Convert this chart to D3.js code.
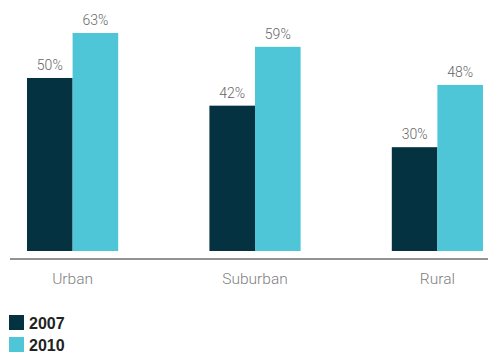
<!DOCTYPE html>
<html>
<head>
<meta charset="utf-8">
<script src="https://cdn.jsdelivr.net/npm/d3@7"></script>
<style>
  body { margin: 0; background: #fff; }
  svg { display: block; }
</style>
</head>
<body>
<svg></svg>
<script>
let categories = ['Urban', 'Suburban', 'Rural']
let years = ['2007', '2010']
let values2007 = [50, 42, 30]
let values2010 = [63, 59, 48]

let colors = ['#053241', '#4fc6d8']

let width = 488
let height = 354
let baseY = 251
let axisY = 259

let svg = d3.select('svg')
            .attr('width', width)
            .attr('height', height)

let rows = categories.map((c, i) => ({ name: c, values: [values2007[i], values2010[i]] }))

let xScale = d3.scaleBand()
               .domain(categories)
               .range([27, 483])
               .paddingInner(0.5)
               .paddingOuter(0)

let subScale = d3.scaleBand()
                 .domain(years)
                 .range([0, xScale.bandwidth()])

let yScale = d3.scaleLinear()
               .domain([0, 63])
               .range([baseY, 33])

let groups = svg.selectAll('.group')
                .data(rows)
                .enter()
                .append('g')
                .attr('class', 'group')
                .attr('transform', (d) => 'translate(' + xScale(d.name) + ',0)')

groups.selectAll('rect')
      .data((d) => d.values.map((v, i) => ({ year: years[i], value: v, i: i })))
      .enter()
      .append('rect')
      .attr('x', (d) => subScale(d.year))
      .attr('y', (d) => yScale(d.value))
      .attr('width', subScale.bandwidth())
      .attr('height', (d) => baseY - yScale(d.value))
      .attr('fill', (d) => colors[d.i])

groups.selectAll('.val')
      .data((d) => d.values.map((v, i) => ({ year: years[i], value: v })))
      .enter()
      .append('text')
      .attr('class', 'val')
      .attr('x', (d) => subScale(d.year) + subScale.bandwidth() / 2)
      .attr('y', (d) => yScale(d.value) - 8)
      .attr('text-anchor', 'middle')
      .style('font-family', 'Roboto, Liberation Sans, Arial, sans-serif')
      .style('font-weight', 300)
      .style('font-size', '14px')
      .style('fill', '#666')
      .text((d) => d.value + '%')

// baseline
svg.append('line')
   .attr('x1', 10)
   .attr('x2', width)
   .attr('y1', axisY)
   .attr('y2', axisY)
   .attr('stroke', '#6e6e6e')
   .attr('stroke-width', 1.5)

let xAxis = d3.axisBottom(xScale)
              .tickSize(0)
              .tickPadding(14)

let axisG = svg.append('g')
               .attr('transform', 'translate(0,' + axisY + ')')
               .call(xAxis)
axisG.select('.domain').remove()
axisG.selectAll('text')
     .style('font-family', 'Roboto, Liberation Sans, Arial, sans-serif')
     .style('font-weight', 300)
     .style('font-size', '15.5px')
     .style('fill', '#808080')

// legend
let legend = svg.selectAll('.legend')
                .data(years)
                .enter()
                .append('g')
                .attr('class', 'legend')
                .attr('transform', (d, i) => 'translate(9,' + (315 + i * 22) + ')')

legend.append('rect')
      .attr('width', 15)
      .attr('height', 15)
      .attr('fill', (d, i) => colors[i])

legend.append('text')
      .attr('x', 20)
      .attr('y', 14)
      .style('font-family', 'Liberation Sans Narrow, Arial Narrow, Liberation Sans, sans-serif')
      .style('font-weight', 'bold')
      .style('font-size', '16px')
      .style('fill', '#222')
      .text((d) => d)
</script>
</body>
</html>
